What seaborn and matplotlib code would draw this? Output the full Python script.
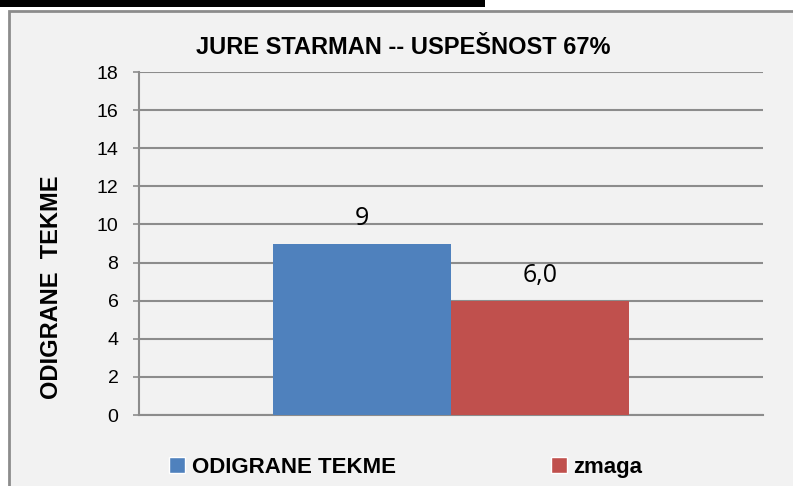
import matplotlib.pyplot as plt
import matplotlib.patches as patches
import seaborn as sns
import pandas as pd

# chart data
series = ["ODIGRANE TEKME", "zmaga"]
values = [9, 6]
value_labels = ["9", "6,0"]
colors = ["#4F81BD", "#C0504D"]

title = "JURE STARMAN -- USPEŠNOST 67%"
y_label = "ODIGRANE  TEKME"
y_ticks = [0, 2, 4, 6, 8, 10, 12, 14, 16, 18]

df = pd.DataFrame({"grp": [""] * len(series), "serija": series, "vrednost": values})

sns.set_style("white")
plt.rcParams["font.family"] = ["Liberation Sans Narrow", "Liberation Sans", "DejaVu Sans"]
plt.rcParams["text.color"] = "black"
plt.rcParams["ytick.labelcolor"] = "black"

fig = plt.figure(figsize=(7.93, 4.86), dpi=100)
W, H = 793, 486

# black strip on top and the grey chart frame
fig.patches.append(patches.Rectangle((0, 1 - 7 / H), 485 / W, 7 / H, transform=fig.transFigure,
                                     facecolor="black", edgecolor="none", zorder=-2))
fig.patches.append(patches.Rectangle((9 / W, -0.05), 1.0, 1 - 11 / H + 0.05, transform=fig.transFigure,
                                     facecolor="#F2F2F2", edgecolor="#8C8C8C", linewidth=2, zorder=-2))

ax = fig.add_axes([139 / W, 1 - 415 / H, 624 / W, 343 / H])
ax.set_facecolor("none")

sns.barplot(data=df, x="grp", y="vrednost", hue="serija", palette=colors,
            width=0.57, saturation=1, linewidth=0, ax=ax, legend=False, zorder=3)

for cont, lab in zip(ax.containers, value_labels):
    ax.bar_label(cont, labels=[lab], padding=9, fontsize=18,
                 family=["Open Sans", "DejaVu Sans"], color="black")

ax.set_xlim(-0.5, 0.5)
ax.set_ylim(0, 18)
ax.set_yticks(y_ticks)
ax.set_yticklabels([str(t) for t in y_ticks], fontsize=14)
ax.set_xticks([])
ax.set_xlabel("")
ax.set_ylabel("")
ax.yaxis.grid(True, color="#8C8C8C", linewidth=1.5, zorder=1)
ax.set_axisbelow(True)
ax.tick_params(axis="y", direction="out", length=4.3, width=1.2, color="#8C8C8C", pad=10.5, left=True)
for s in ["top", "right"]:
    ax.spines[s].set_visible(False)
for s in ["left", "bottom"]:
    ax.spines[s].set_color("#8C8C8C")
    ax.spines[s].set_linewidth(1.5)

fig.text(403 / W, 1 - 47 / H, title, ha="center", va="center", fontsize=17, fontweight="bold")
fig.text(52 / W, 1 - 287 / H, y_label, ha="center", va="center", rotation=90,
         fontsize=17, fontweight="bold")

handles = [patches.Patch(facecolor=c) for c in colors]
fig.legend(handles, series, loc="center", bbox_to_anchor=(406 / W, 1 - 467 / H), ncol=2,
           frameon=False, handlelength=0.7, handleheight=0.7, handletextpad=0.3,
           columnspacing=7, prop={"size": 16, "weight": "bold"})

fig.savefig("out.png", dpi=100)
